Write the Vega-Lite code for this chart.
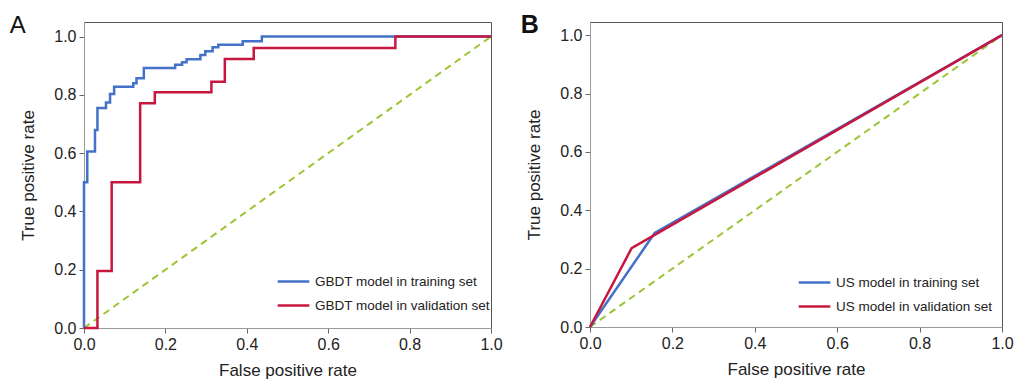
{
  "$schema": "https://vega.github.io/schema/vega-lite/v6.json",
  "background": "white",
  "padding": {"left": 9, "top": 12, "right": 0, "bottom": 0},
  "config": {
    "font": "Liberation Sans",
    "view": {"stroke": "#555", "strokeWidth": 1},
    "axis": {
      "grid": false,
      "domainColor": "#999",
      "tickColor": "#666",
      "tickSize": 5,
      "labelFontSize": 16,
      "labelColor": "#222",
      "labelPadding": 3,
      "labelFlush": false,
      "labelBound": false,
      "titleFontSize": 17,
      "titleFontWeight": "normal",
      "titleColor": "#222"
    },
    "legend": {
      "labelFontSize": 13.5,
      "labelColor": "#222",
      "labelLimit": 0,
      "symbolType": "stroke",
      "symbolSize": 1000,
      "symbolStrokeWidth": 2.5,
      "labelOffset": 4,
      "rowPadding": -10,
      "padding": 0,
      "title": null
    }
  },
  "spacing": 17,
  "resolve": {"scale": {"color": "independent"}, "legend": {"color": "independent"}},
  "hconcat": [
    {
      "width": 407,
      "height": 306,
      "title": {"text": "A", "anchor": "start", "frame": "bounds", "fontSize": 24, "fontWeight": "normal", "color": "#111", "offset": -16, "dx": -10},
      "layer": [
        {
          "data": {"values": [{"x": 0, "y": 0}, {"x": 1, "y": 1}]},
          "mark": {"type": "line", "color": "#9cc434", "strokeWidth": 2, "strokeDash": [7, 5]},
          "encoding": {
            "x": {"field": "x", "type": "quantitative", "scale": {"domain": [0, 1], "nice": false}, "axis": {"title": "False positive rate", "format": ".1f", "values": [0, 0.2, 0.4, 0.6, 0.8, 1], "titlePadding": 10}},
            "y": {"field": "y", "type": "quantitative", "scale": {"domain": [0, 1.05], "nice": false}, "axis": {"title": "True positive rate", "format": ".1f", "values": [0, 0.2, 0.4, 0.6, 0.8, 1], "titlePadding": 16}}
          }
        },
        {
          "data": {"values": [
            {"s": "GBDT model in training set", "i": 0, "fpr": 0, "tpr": 0},
            {"s": "GBDT model in training set", "i": 1, "fpr": 0, "tpr": 0.5},
            {"s": "GBDT model in training set", "i": 2, "fpr": 0.008, "tpr": 0.606},
            {"s": "GBDT model in training set", "i": 3, "fpr": 0.027, "tpr": 0.679},
            {"s": "GBDT model in training set", "i": 4, "fpr": 0.033, "tpr": 0.755},
            {"s": "GBDT model in training set", "i": 5, "fpr": 0.054, "tpr": 0.774},
            {"s": "GBDT model in training set", "i": 6, "fpr": 0.064, "tpr": 0.803},
            {"s": "GBDT model in training set", "i": 7, "fpr": 0.074, "tpr": 0.828},
            {"s": "GBDT model in training set", "i": 8, "fpr": 0.121, "tpr": 0.84},
            {"s": "GBDT model in training set", "i": 9, "fpr": 0.129, "tpr": 0.857},
            {"s": "GBDT model in training set", "i": 10, "fpr": 0.147, "tpr": 0.892},
            {"s": "GBDT model in training set", "i": 11, "fpr": 0.224, "tpr": 0.903},
            {"s": "GBDT model in training set", "i": 12, "fpr": 0.241, "tpr": 0.912},
            {"s": "GBDT model in training set", "i": 13, "fpr": 0.252, "tpr": 0.922},
            {"s": "GBDT model in training set", "i": 14, "fpr": 0.286, "tpr": 0.937},
            {"s": "GBDT model in training set", "i": 15, "fpr": 0.298, "tpr": 0.95},
            {"s": "GBDT model in training set", "i": 16, "fpr": 0.316, "tpr": 0.963},
            {"s": "GBDT model in training set", "i": 17, "fpr": 0.33, "tpr": 0.972},
            {"s": "GBDT model in training set", "i": 18, "fpr": 0.39, "tpr": 0.984},
            {"s": "GBDT model in training set", "i": 19, "fpr": 0.437, "tpr": 1.0},
            {"s": "GBDT model in training set", "i": 20, "fpr": 1.0, "tpr": 1.0},
            {"s": "GBDT model in validation set", "i": 0, "fpr": 0, "tpr": 0},
            {"s": "GBDT model in validation set", "i": 1, "fpr": 0.033, "tpr": 0.196},
            {"s": "GBDT model in validation set", "i": 2, "fpr": 0.068, "tpr": 0.5},
            {"s": "GBDT model in validation set", "i": 3, "fpr": 0.138, "tpr": 0.771},
            {"s": "GBDT model in validation set", "i": 4, "fpr": 0.174, "tpr": 0.809},
            {"s": "GBDT model in validation set", "i": 5, "fpr": 0.313, "tpr": 0.845},
            {"s": "GBDT model in validation set", "i": 6, "fpr": 0.346, "tpr": 0.923},
            {"s": "GBDT model in validation set", "i": 7, "fpr": 0.417, "tpr": 0.961},
            {"s": "GBDT model in validation set", "i": 8, "fpr": 0.765, "tpr": 1.0},
            {"s": "GBDT model in validation set", "i": 9, "fpr": 1.0, "tpr": 1.0}
          ]},
          "mark": {"type": "line", "interpolate": "step-after", "strokeWidth": 2.5},
          "encoding": {
            "x": {"field": "fpr", "type": "quantitative"},
            "y": {"field": "tpr", "type": "quantitative"},
            "order": {"field": "i", "type": "quantitative"},
            "color": {
              "field": "s", "type": "nominal",
              "scale": {"domain": ["GBDT model in training set", "GBDT model in validation set"], "range": ["#4472c8", "#c8173f"]},
              "legend": {"orient": "none", "legendX": 192, "legendY": 242}
            }
          }
        }
      ]
    },
    {
      "width": 412,
      "height": 305,
      "title": {"text": "B", "anchor": "start", "frame": "bounds", "fontSize": 25, "fontWeight": "bold", "color": "#111", "offset": -16, "dx": -5},
      "layer": [
        {
          "data": {"values": [{"x": 0, "y": 0}, {"x": 1, "y": 1}]},
          "mark": {"type": "line", "color": "#9cc434", "strokeWidth": 2, "strokeDash": [7, 5]},
          "encoding": {
            "x": {"field": "x", "type": "quantitative", "scale": {"domain": [0, 1], "nice": false}, "axis": {"title": "False positive rate", "format": ".1f", "values": [0, 0.2, 0.4, 0.6, 0.8, 1], "titlePadding": 10}},
            "y": {"field": "y", "type": "quantitative", "scale": {"domain": [0, 1.045], "nice": false}, "axis": {"title": "True positive rate", "format": ".1f", "values": [0, 0.2, 0.4, 0.6, 0.8, 1], "titlePadding": 16}}
          }
        },
        {
          "data": {"values": [
            {"s": "US model in training set", "i": 0, "fpr": 0, "tpr": 0},
            {"s": "US model in training set", "i": 1, "fpr": 0.157, "tpr": 0.322},
            {"s": "US model in training set", "i": 2, "fpr": 1.0, "tpr": 1.0},
            {"s": "US model in validation set", "i": 0, "fpr": 0, "tpr": 0},
            {"s": "US model in validation set", "i": 1, "fpr": 0.101, "tpr": 0.27},
            {"s": "US model in validation set", "i": 2, "fpr": 1.0, "tpr": 1.0}
          ]},
          "mark": {"type": "line", "strokeWidth": 2.5},
          "encoding": {
            "x": {"field": "fpr", "type": "quantitative"},
            "y": {"field": "tpr", "type": "quantitative"},
            "order": {"field": "i", "type": "quantitative"},
            "color": {
              "field": "s", "type": "nominal",
              "scale": {"domain": ["US model in training set", "US model in validation set"], "range": ["#4472c8", "#c8173f"]},
              "legend": {"orient": "none", "legendX": 207, "legendY": 243}
            }
          }
        }
      ]
    }
  ]
}
